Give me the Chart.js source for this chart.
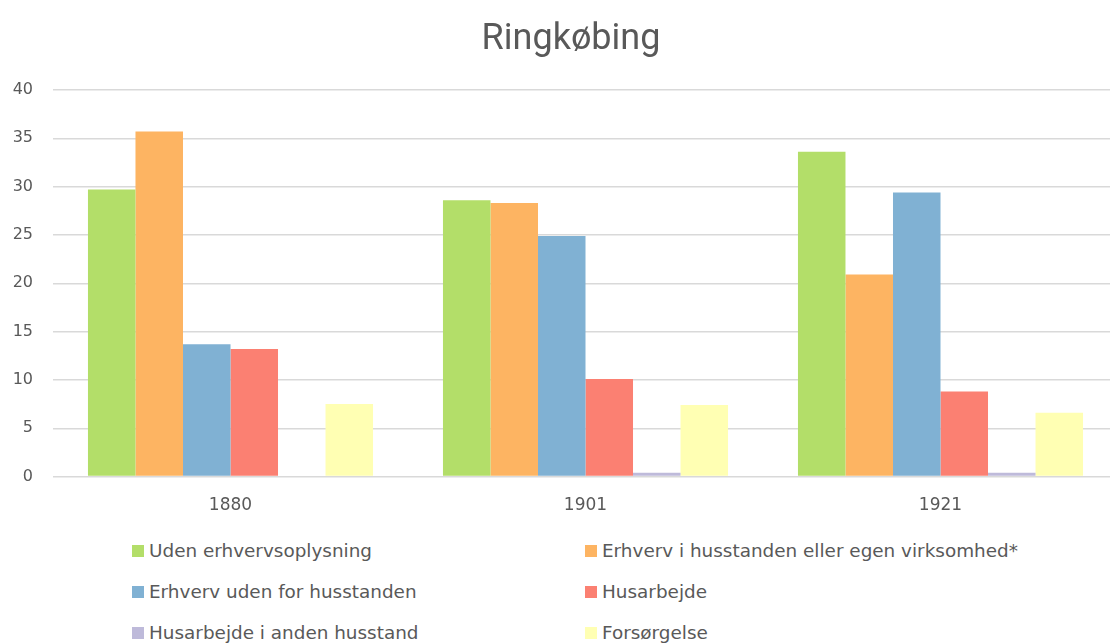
<!DOCTYPE html>
<html><head><meta charset="utf-8">
<script src="https://cdn.jsdelivr.net/npm/chart.js@4"></script>
<style>
html,body{margin:0;padding:0;background:#fff;width:1110px;height:644px;overflow:hidden;font-family:"DejaVu Sans",sans-serif;}
#wrap{position:absolute;left:0;top:0;width:1118px;height:527px;}
#title{position:absolute;left:421px;top:16px;width:300px;text-align:center;font-family:Roboto,sans-serif;font-size:36px;line-height:42px;color:#595959;}
#legend{position:absolute;left:132px;top:530px;width:970px;display:grid;grid-template-columns:453px 510px;}
.item{display:flex;align-items:center;height:41px;font-size:18.4px;color:#595959;white-space:nowrap;}
.box{width:12px;height:12px;margin-right:5px;flex:none;}
</style></head><body>
<div id="wrap"><canvas id="c"></canvas></div>
<div id="title"></div>
<div id="legend"></div>
<script>
const title = "Ringkøbing";
const categories = ["1880", "1901", "1921"];
const seriesNames = ["Uden erhvervsoplysning", "Erhverv i husstanden eller egen virksomhed*", "Erhverv uden for husstanden", "Husarbejde", "Husarbejde i anden husstand", "Forsørgelse"];
const udenErhverv = [29.7, 28.6, 33.6];
const erhvervIHusstanden = [35.7, 28.3, 20.9];
const erhvervUdenFor = [13.7, 24.9, 29.4];
const husarbejde = [13.2, 10.1, 8.8];
const husarbejdeAnden = [0, 0.4, 0.4];
const forsorgelse = [7.5, 7.4, 6.6];
const colors = ["#b3de69", "#fdb462", "#80b1d3", "#fb8072", "#bebada", "#ffffb3"];
const yTicks = [0, 5, 10, 15, 20, 25, 30, 35, 40];

document.getElementById('title').textContent = title;

const seriesData = [udenErhverv, erhvervIHusstanden, erhvervUdenFor, husarbejde, husarbejdeAnden, forsorgelse];
const datasets = seriesNames.map((n, i) => ({
  label: n, data: seriesData[i], backgroundColor: colors[i],
  barPercentage: 1, categoryPercentage: 0.803, borderWidth: 0
}));

new Chart(document.getElementById('c'), {
  type: 'bar',
  data: { labels: categories, datasets },
  options: {
    responsive: true, maintainAspectRatio: false, animation: false,
    layout: { padding: { left: 0, right: 0, top: 90, bottom: 0 } },
    plugins: {
      legend: { display: false },
      tooltip: { enabled: false },
      title: { display: false }
    },
    scales: {
      x: {
        grid: { display: false }, border: { display: false },
        ticks: { color: '#595959', font: { family: 'DejaVu Sans', size: 17 }, padding: 11 }
      },
      y: {
        min: 0, max: 40,
        afterBuildTicks: s => { s.ticks = yTicks.map(v => ({ value: v })); },
        afterFit: s => { s.width = 53; },
        grid: { color: '#d9d9d9', lineWidth: 1.5, drawTicks: false },
        border: { display: false },
        ticks: { color: '#595959', font: { family: 'DejaVu Sans', size: 16 }, padding: 20 }
      }
    }
  }
});

const lg = document.getElementById('legend');
seriesNames.forEach((n, i) => {
  const d = document.createElement('div'); d.className = 'item';
  d.innerHTML = '<span class="box" style="background:' + colors[i] + '"></span><span></span>';
  d.lastChild.textContent = n;
  lg.appendChild(d);
});
</script>
</body></html>
